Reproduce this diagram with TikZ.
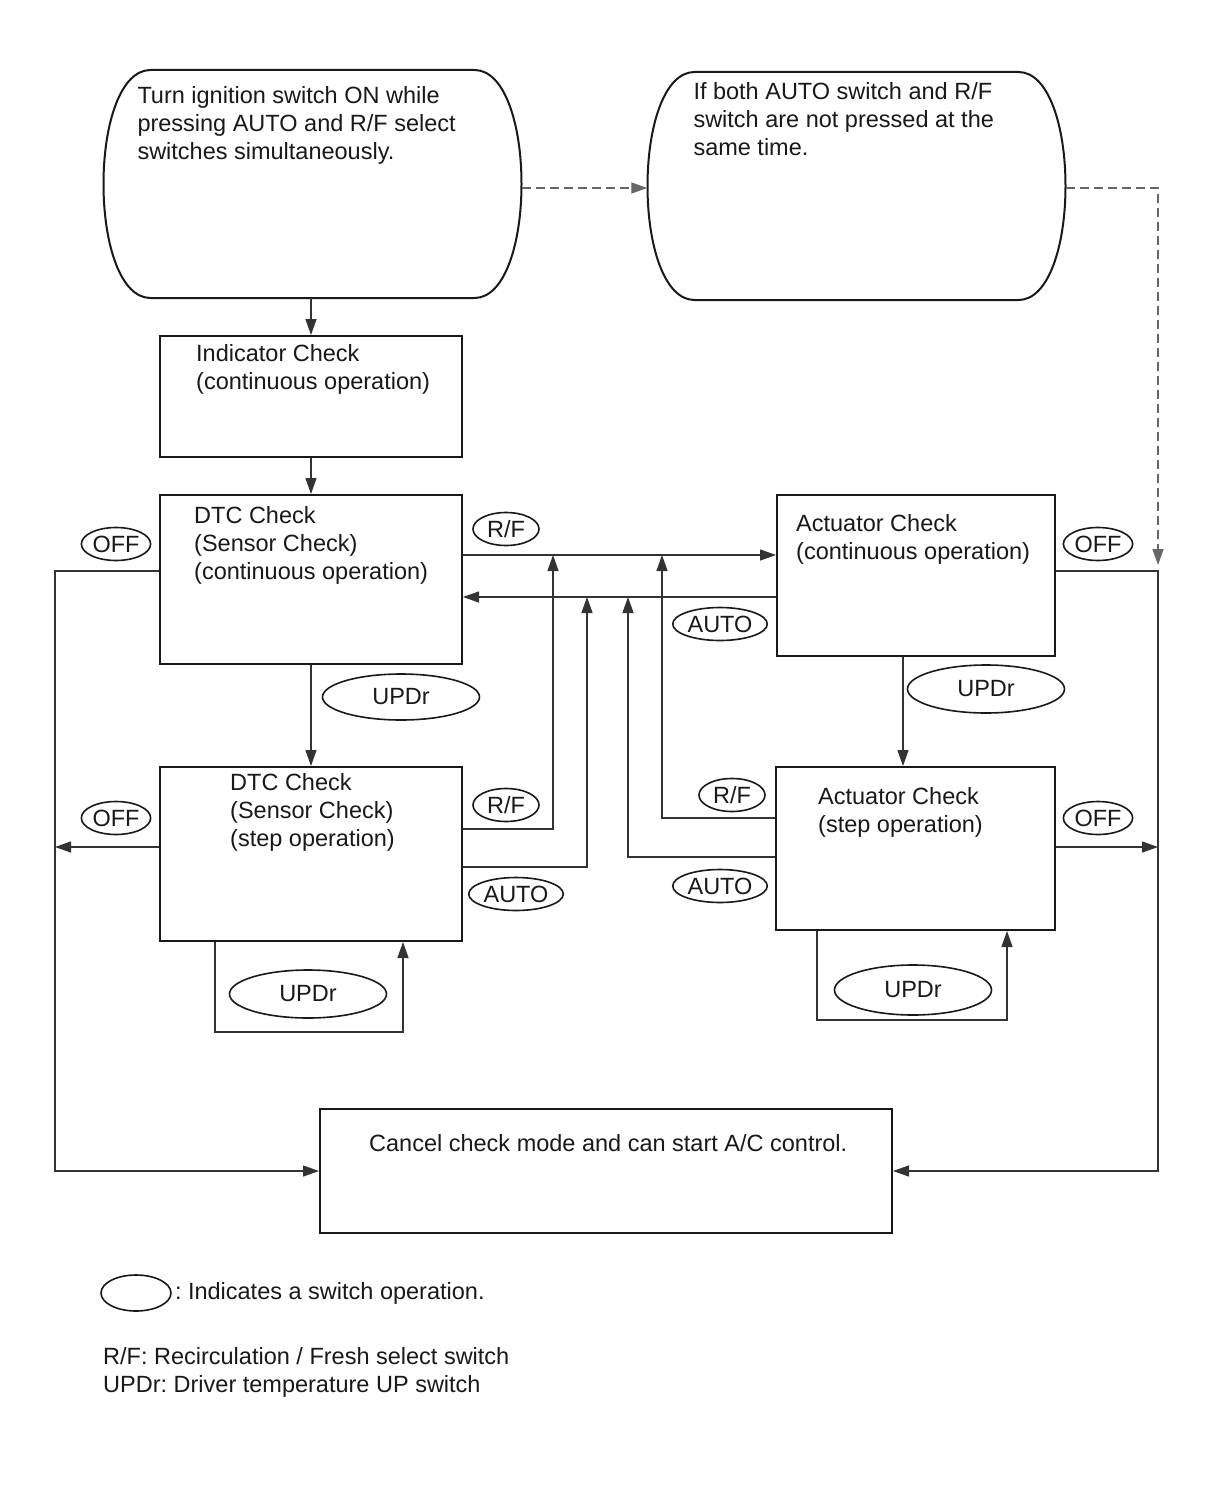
\documentclass[tikz,border=0pt]{standalone}
\usepackage{fontspec}
\setmainfont{Liberation Sans}
\frenchspacing
\usetikzlibrary{shapes.geometric, arrows.meta, positioning}

\tikzset{
  box/.style={draw=black!90, line width=2pt, inner sep=0pt},
  term/.style={draw=none, inner sep=0pt, minimum width=418pt, minimum height=228pt},
  txt/.style={align=left, inner sep=0pt, anchor=north west, text=black!90},
  sw/.style={ellipse, draw=black!90, line width=1.6pt, inner sep=1pt, minimum height=33pt, text=black!90},
  link/.style={draw=black!80, line width=1.3pt},
  arr/.style={link, -{Triangle[length=16pt, width=11pt]}},
  dasharr/.style={arr, draw=black!60, dash pattern=on 9pt off 5pt},
}

\newcommand{\termbox}[3]{%
  \node[term] (#1) at (#2,#3) {};
  \draw[draw=black!90, line width=2pt, shift={(#2,#3)}] (-162,-114) -- (162,-114)
    .. controls (192,-114) and (209,-60) .. (209,0)
    .. controls (209,60) and (192,114) .. (162,114) -- (-162,114)
    .. controls (-192,114) and (-209,60) .. (-209,0)
    .. controls (-209,-60) and (-192,-114) .. (-162,-114) -- cycle;}

\begin{document}
\begin{tikzpicture}[x=1pt, y=-1pt, font=\fontsize{23.5}{28}\selectfont]
  \fill[white] (0,0) rectangle (1208,1496);
  \useasboundingbox (0,0) rectangle (1208,1496);

  \termbox{start}{312.5}{184}
  \termbox{nopress}{856.5}{186}
  \node[txt] (starttxt) at ([shift={(34,16)}]start.north west) {Turn ignition switch ON while\\pressing AUTO and R/F select\\switches simultaneously.};
  \node[txt] (nopresstxt) at ([shift={(46,10)}]nopress.north west) {If both AUTO switch and R/F\\switch are not pressed at the\\same time.};

  \node[box, minimum width=302pt, minimum height=121pt] (ind) at (311,396.5) {};
  \node[box, minimum width=302pt, minimum height=169pt] (dtc) at (311,579.5) {};
  \node[box, minimum width=278pt, minimum height=161pt] (act) at (916,575.5) {};
  \node[box, minimum width=302pt, minimum height=174pt] (dtcs) at (311,854) {};
  \node[box, minimum width=279pt, minimum height=163pt] (acts) at (915.5,848.5) {};
  \node[box, minimum width=572pt, minimum height=124pt] (cancel) at (606,1171) {};

  \node[txt] (indtxt) at ([shift={(37,9)}]ind.north west) {Indicator Check\\(continuous operation)};
  \node[txt] (dtctxt) at ([shift={(35,12)}]dtc.north west) {DTC Check\\(Sensor Check)\\(continuous operation)};
  \node[txt] (acttxt) at ([shift={(20,20)}]act.north west) {Actuator Check\\(continuous operation)};
  \node[txt] (dtcstxt) at ([shift={(71,7)}]dtcs.north west) {DTC Check\\(Sensor Check)\\(step operation)};
  \node[txt] (actstxt) at ([shift={(43,21)}]acts.north west) {Actuator Check\\(step operation)};
  \node[txt] (canceltxt) at ([shift={(50,26)}]cancel.north west) {Cancel check mode and can start A/C control.};

  \coordinate (rf) at (0,555);
  \coordinate (au) at (0,597);
  \coordinate (lcol) at (55,0);
  \coordinate (rcol) at (1158,571);
  \coordinate (rise1) at (553,555);
  \coordinate (rise2) at (587,597);
  \coordinate (rise3) at (628,597);
  \coordinate (rise4) at (662,555);
  \coordinate (dtcsoff) at ([yshift=7pt]dtcs.west);
  \coordinate (actsoff) at ([yshift=1.5pt]acts.east);
  \coordinate (actdown) at ([xshift=-13pt]act.south);
  \coordinate (dashbeg) at ([yshift=-4pt]start.east);
  \coordinate (dashend) at ([yshift=6pt]rcol);

  \draw[dasharr] (dashbeg) -- (dashbeg -| nopress.west);
  \draw[dasharr] ([yshift=-2pt]nopress.east) -| (dashend);

  \draw[arr] (ind.north |- start.south) -- (ind.north);
  \draw[arr] (ind.south) -- (dtc.north);
  \draw[arr] (dtc.south) -- (dtcs.north);
  \draw[arr] (actdown) -- (actdown |- acts.north);

  \draw[arr] (dtc.east |- rf) -- (act.west |- rf);
  \draw[arr] (act.west |- au) -- (dtc.east |- au);
  \draw[arr] ([yshift=25pt]dtcs.east) -| (rise1);
  \draw[arr] ([yshift=-13pt]dtcs.east) -| (rise2);
  \draw[arr] ([yshift=-8.5pt]acts.west) -| (rise3);
  \draw[arr] ([yshift=30.5pt]acts.west) -| (rise4);

  \draw[arr] ([yshift=8.5pt]dtc.west) -| (lcol |- cancel.west) -- (cancel.west);
  \draw[arr] (dtcsoff) -- (dtcsoff -| lcol);
  \draw[arr] ([yshift=4.5pt]act.east) -| (rcol |- cancel.east) -- (cancel.east);
  \draw[arr] (actsoff) -- (actsoff -| rcol);

  \draw[arr] ([xshift=-96pt]dtcs.south) -- ++(0,90) -| ([xshift=92pt]dtcs.south);
  \draw[arr] ([xshift=-98.5pt]acts.south) -- ++(0,89) -| ([xshift=91.5pt]acts.south);

  \node[sw, minimum width=68pt] (offl1) at (116,544) {OFF};
  \node[sw, minimum width=68pt] (offl2) at (116,818) {OFF};
  \node[sw, minimum width=68pt] (offr1) at (1098,544) {OFF};
  \node[sw, minimum width=68pt] (offr2) at (1098,818) {OFF};
  \node[sw, minimum width=66pt] (rf1) at (506,529) {R/F};
  \node[sw, minimum width=66pt] (rf2) at (506,805) {R/F};
  \node[sw, minimum width=66pt] (rf3) at (732,795) {R/F};
  \node[sw, minimum width=90pt] (au1) at (720,624) {AUTO};
  \node[sw, minimum width=90pt] (au2) at (516,894) {AUTO};
  \node[sw, minimum width=90pt] (au3) at (720,886) {AUTO};
  \node[sw, minimum width=157pt, minimum height=46pt] (up1) at (401,697) {UPDr};
  \node[sw, minimum width=157pt, minimum height=48pt] (up2) at (986,689) {UPDr};
  \node[sw, minimum width=157pt, minimum height=48pt] (up3) at (308,994) {UPDr};
  \node[sw, minimum width=157pt, minimum height=50pt] (up4) at (913,990) {UPDr};

  \node[sw, minimum width=70pt, minimum height=36pt] (legsw) at (136,1293) {};
  \node[anchor=west, inner sep=0pt, text=black!90] (legtxt) at ([xshift=3pt]legsw.east) {: Indicates a switch operation.};
  \node[txt] (abbr) at (103,1347) {R/F: Recirculation / Fresh select switch\\UPDr: Driver temperature UP switch};
\end{tikzpicture}
\end{document}
